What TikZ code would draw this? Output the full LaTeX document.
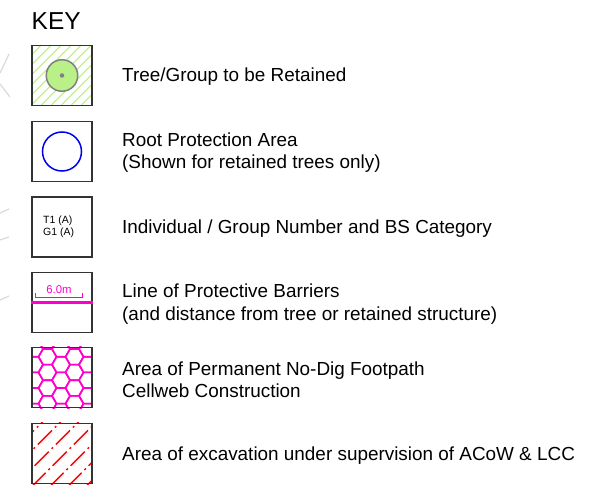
\documentclass[tikz,border=0pt]{standalone}
\usepackage{fontspec}
\setmainfont{Liberation Sans}
\usepackage{tikz}
\pgfdeclarelayer{background}
\pgfsetlayers{background,main}
\definecolor{crowngreen}{RGB}{185,240,135}
\definecolor{hatchgreen}{RGB}{185,240,130}
\definecolor{barrierpink}{RGB}{255,0,204}
\definecolor{rpablue}{RGB}{0,0,235}
\definecolor{ghostgray}{RGB}{218,218,218}

\begin{document}
\begin{tikzpicture}[x=1pt,y=-1pt,
        keybox/.style={draw=black!80,line width=1.1pt,minimum size=60pt,inner sep=0pt},
        keytext/.style={anchor=base west,inner sep=0pt,font=\fontsize{18.9}{22}\selectfont},
        smalltext/.style={anchor=base west,inner sep=0pt,font=\fontsize{10.5}{12}\selectfont}
    ]
            \useasboundingbox (0,0) rectangle (604,495);

            % faint lines from the drawing behind the key
            \begin{scope}[ghostgray,line width=1.2pt]
                \draw (9,54) -- (0,73);
                \draw (0,84) -- (10,97);
                \draw (0,213) -- (9,209);
                \draw (0,240) -- (9,237);
                \draw (0,300) -- (9,296);
            \end{scope}

            \node[anchor=base west,inner sep=0pt,font=\fontsize{24.5}{27}\selectfont] (keytitle) at (31.5,30) {KEY};

            % the six key boxes
            \node[keybox] (tree) at (62,75.5) {};
            \node[keybox] (rpa) at (62,151.5) {};
            \node[keybox] (ref) at (62,227) {};
            \node[keybox] (barrier) at (62,302.5) {};
            \node[keybox] (cellweb) at (62,377.5) {};
            \node[keybox] (excav) at (62,453.5) {};

            % tree / group to be retained
            \begin{pgfonlayer}{background}
                \begin{scope}
                    \clip (tree.north west) rectangle (tree.south east);
                    \foreach \d in {-60,-50,...,60}{
                        \draw[hatchgreen,line width=1.1pt] ([shift={(\d,60)}]tree.north west) -- ++(60,-60);
                    };
                \end{scope}
            \end{pgfonlayer}
            \node[circle,draw=black!50,fill=crowngreen,line width=1.5pt,minimum size=31.5pt,inner sep=0pt] (crown) at (tree.center) {};
            \node[circle,fill=black!50,minimum size=4.5pt,inner sep=0pt] (stem) at (crown.center) {};
            \node[keytext] (treelbl) at (122,81.5) {Tree/Group to be Retained};

            % root protection area
            \node[circle,draw=rpablue,line width=1.5pt,minimum size=39pt,inner sep=0pt] (rparing) at (rpa.center) {};
            \node[keytext] (rpalbl) at (122,146) {Root Protection Area};
            \node[keytext] (rpanote) at (122,168) {(Shown for retained trees only)};

            % tree number and category
            \node[smalltext] (reftree) at (43,223) {T1 (A)};
            \node[smalltext] (refgroup) at (43,235) {G1 (A)};
            \node[keytext] (reflbl) at (122,233) {Individual / Group Number and BS Category};

            % protective barriers
            \draw[barrierpink,line width=3.5pt] (barrier.west |- 0,302.7) -- (barrier.east |- 0,302.7);
            \draw[barrierpink,line width=1.2pt] (35.7,293) -- (35.7,297.3) -- (82.7,297.3) -- (82.7,293);
            \node[inner sep=0pt,text=barrierpink,font=\fontsize{11.3}{13}\selectfont] (barrierdim) at (59,289.5) {6.0m};
            \node[keytext] (barrierlbl) at (122,297) {Line of Protective Barriers};
            \node[keytext] (barriernote) at (122,320) {(and distance from tree or retained structure)};

            % cellweb footpath
            \begin{pgfonlayer}{background}
                \begin{scope}[barrierpink,line width=1.6pt]
                    \clip (cellweb.north west) rectangle (cellweb.south east);
                    \foreach \c in {-1,...,5}{
                        \foreach \r in {-1,...,4}{
                            \pgfmathsetmacro{\hx}{34+13.5*\c}
                            \pgfmathsetmacro{\hy}{349+15.6*\r+7.8*mod(\c+2,2)}
                            \draw (\hx,\hy) +(0:9) -- +(60:9) -- +(120:9) -- +(180:9)
                                -- +(240:9) -- +(300:9) -- cycle;
                        }
                    };
                \end{scope}
            \end{pgfonlayer}
            \node[keytext] (cellweblbl) at (122,375) {Area of Permanent No-Dig Footpath};
            \node[keytext] (cellwebnote) at (122,397) {Cellweb Construction};

            % supervised excavation
            \begin{pgfonlayer}{background}
                \begin{scope}
                    \clip (excav.north west) rectangle (excav.south east);
                    \foreach \d in {-72,-54,...,72}{
                        \draw[red,line width=1.3pt,dash pattern=on 20pt off 4pt on 2pt off 4pt] ([shift={(\d,64)}]excav.north west) -- ++(68,-68);
                    };
                \end{scope}
            \end{pgfonlayer}
            \node[keytext] (excavlbl) at (122,460) {Area of excavation under supervision of ACoW \& LCC};

        \end{tikzpicture}
\end{document}
